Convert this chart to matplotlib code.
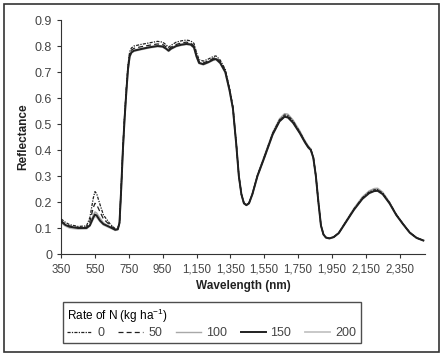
"""
Canopy reflectance spectra for five nitrogen rates (kg N / ha).
"""

import matplotlib

matplotlib.use("Agg")
import matplotlib.pyplot as plt
from matplotlib.patches import Rectangle
from matplotlib.ticker import FuncFormatter

wavelength = [
    350, 375, 400, 450, 500, 520, 540, 550, 560, 580, 600, 640, 670, 685, 695,
    705, 715, 725, 735, 745, 755, 765, 780, 820, 870, 920, 950, 970, 985, 1000,
    1030, 1060, 1090, 1115, 1135, 1150, 1165, 1190, 1220, 1250, 1265, 1290, 1320,
    1345, 1365, 1385, 1400, 1415, 1430, 1445, 1460, 1480, 1510, 1550, 1600, 1640,
    1670, 1690, 1720, 1760, 1790, 1810, 1825, 1840, 1855, 1870, 1885, 1900, 1915,
    1935, 1960, 1990, 2030, 2080, 2130, 2170, 2200, 2220, 2250, 2290, 2330, 2370,
    2410, 2450, 2490,
]

refl_0 = [
    .135, .122, .113, .106, .108, .140, .215, .240, .232, .190, .150, .115, .097, .098, .122,
    .255, .410, .530, .635, .725, .778, .792, .800, .806, .812, .818, .815, .805, .795, .803,
    .815, .820, .823, .820, .810, .775, .748, .742, .750, .760, .762, .746, .710,
    .638, .566, .424, .302, .231, .196, .189, .196, .231, .302, .373, .465, .516,
    .535, .533, .512, .470, .434, .413, .403, .372, .301, .200, .110, .075, .063,
    .060, .065, .081, .122, .173, .216, .239, .247, .248, .234, .198, .152, .116,
    .083, .062, .052,
]
refl_50 = [
    .128, .115, .108, .102, .103, .125, .178, .195, .190, .162, .135, .110, .095, .096, .121,
    .252, .405, .525, .628, .718, .770, .784, .791, .797, .803, .808, .806, .797, .788, .796,
    .806, .812, .815, .812, .801, .766, .740, .735, .743, .753, .755, .740, .705,
    .634, .563, .422, .301, .230, .195, .188, .195, .230, .301, .371, .462, .512,
    .530, .528, .508, .467, .432, .411, .401, .371, .300, .200, .110, .075, .063,
    .060, .065, .080, .121, .171, .214, .236, .244, .245, .232, .196, .151, .115,
    .082, .062, .052,
]
refl_100 = [
    .122, .110, .103, .098, .099, .112, .150, .162, .158, .138, .120, .104, .093, .095, .120,
    .250, .400, .520, .622, .712, .762, .777, .784, .790, .797, .802, .800, .792, .784, .792,
    .802, .807, .810, .808, .797, .762, .737, .732, .740, .750, .752, .737, .702,
    .632, .562, .421, .300, .231, .197, .190, .197, .233, .305, .377, .468, .520,
    .540, .538, .516, .474, .437, .416, .405, .373, .302, .201, .111, .076, .064,
    .061, .066, .082, .124, .176, .220, .243, .252, .253, .238, .200, .153, .117,
    .083, .063, .053,
]
refl_150 = [
    .125, .112, .105, .100, .100, .110, .140, .152, .148, .128, .115, .103, .093, .095, .120,
    .250, .400, .520, .620, .710, .760, .775, .782, .788, .795, .800, .798, .790, .782, .790,
    .800, .805, .808, .806, .795, .760, .735, .730, .738, .748, .750, .735, .700,
    .630, .560, .420, .300, .230, .195, .188, .195, .230, .300, .370, .460, .510,
    .528, .525, .505, .465, .430, .410, .400, .370, .300, .200, .110, .075, .063,
    .060, .065, .080, .120, .170, .212, .234, .242, .243, .230, .195, .150, .115,
    .082, .062, .052,
]
refl_200 = [
    .120, .108, .100, .096, .097, .108, .135, .145, .142, .125, .112, .100, .091, .094, .118,
    .248, .398, .518, .618, .708, .758, .773, .780, .786, .793, .798, .796, .788, .780, .788,
    .798, .803, .806, .804, .793, .758, .733, .728, .736, .746, .748, .733, .698,
    .628, .558, .418, .299, .229, .194, .187, .194, .229, .299, .369, .460, .512,
    .532, .530, .508, .467, .431, .410, .400, .370, .299, .199, .109, .074, .062,
    .059, .064, .080, .121, .172, .215, .238, .246, .247, .233, .196, .150, .114,
    .081, .061, .051,
]

rates = ["0", "50", "100", "150", "200"]
x_ticks = [350, 550, 750, 950, 1150, 1350, 1550, 1750, 1950, 2150, 2350]
y_ticks = [0, 0.1, 0.2, 0.3, 0.4, 0.5, 0.6, 0.7, 0.8, 0.9]

plt.rcParams["font.family"] = ["Liberation Sans", "DejaVu Sans"]
plt.rcParams["font.size"] = 8.5

fig = plt.figure(figsize=(4.46, 3.58), dpi=100)
ax = fig.add_axes([0.137, 0.2905, 0.816, 0.6535])

# grey curves first so the black ones sit on top
ax.plot(wavelength, refl_200, color="#c4c4c4", lw=1.3, label=rates[4], zorder=2)
ax.plot(wavelength, refl_100, color="#a8a8a8", lw=1.0, label=rates[2], zorder=2)
ax.plot(wavelength, refl_150, color="#202020", lw=1.4, label=rates[3], zorder=3)
ax.plot(wavelength, refl_50, color="#202020", lw=0.9, ls=(0, (4, 2.5)), label=rates[1], zorder=4)
ax.plot(wavelength, refl_0, color="#202020", lw=0.9, ls=(0, (2.5, 1, 1, 1)), label=rates[0], zorder=4)

ax.set_xlim(350, 2500)
ax.set_ylim(0, 0.9)
ax.set_xticks(x_ticks)
ax.xaxis.set_major_formatter(FuncFormatter(lambda v, p: f"{int(v):,}"))
ax.set_yticks(y_ticks)
ax.yaxis.set_major_formatter(FuncFormatter(lambda v, p: "0" if v == 0 else f"{v:.1f}"))
ax.tick_params(direction="out", length=3, width=0.8, colors="#333333",
               labelcolor="#444444", labelsize=9)
ax.tick_params(axis="x", labelsize=8.3, pad=4)
ax.spines["top"].set_visible(False)
ax.spines["right"].set_visible(False)
for s in ("left", "bottom"):
    ax.spines[s].set_color("#333333")
ax.set_xlabel("Wavelength (nm)", fontweight="bold", labelpad=3, color="#222222", fontsize=8.5)
ax.set_ylabel("Reflectance", fontweight="bold", labelpad=4, color="#222222", fontsize=8.5)

handles, labels = ax.get_legend_handles_labels()
order = [labels.index(r) for r in rates]
leg = fig.legend(
    [handles[i] for i in order], rates,
    loc="upper left", bbox_to_anchor=(63 / 446, 1 - 302 / 358),
    ncol=5, title=r"Rate of N (kg ha$^{\mathregular{-1}}$)", alignment="left",
    frameon=True, fancybox=False, edgecolor="#222222", handlelength=2.0,
    handletextpad=0.4, columnspacing=1.1, borderaxespad=0, borderpad=0.35,
    labelspacing=0.2, fontsize=9,
)
leg.get_frame().set_linewidth(1.0)
leg.get_title().set_fontsize(8.5)
for t in leg.get_texts():
    t.set_color("#444444")

# outer border around the whole figure
fig.patches.append(Rectangle((4 / 446, 6 / 358), 435 / 446, 348 / 358,
                             transform=fig.transFigure, fill=False,
                             edgecolor="#333333", lw=1.2))

fig.savefig("out.png", dpi=100)
